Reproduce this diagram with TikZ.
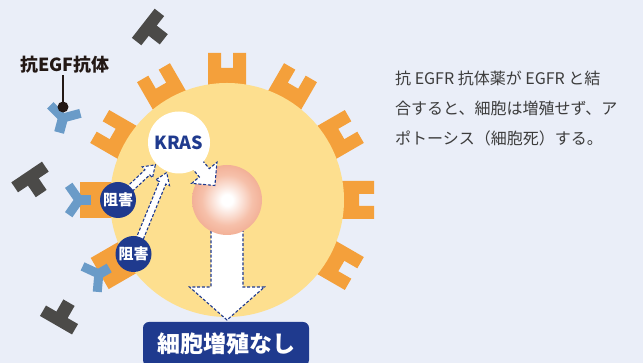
\documentclass[tikz,border=0pt]{standalone}
\usepackage{fontspec}
\setmainfont{Noto Sans CJK JP}
\usetikzlibrary{calc}

\definecolor{bg}{HTML}{EAEEF8}
\definecolor{cellfill}{HTML}{FDDF8F}
\definecolor{rec}{HTML}{F4A03B}
\definecolor{abblue}{HTML}{6A9BC8}
\definecolor{egf}{HTML}{4B4A48}
\definecolor{navy}{HTML}{1F3A8E}
\definecolor{ink}{HTML}{231815}
\definecolor{bodytext}{HTML}{3C3C3C}
\definecolor{nucA}{HTML}{F6C0AA}
\definecolor{nucB}{HTML}{EFA184}
\definecolor{nucC}{HTML}{EA9172}
\definecolor{nucD}{HTML}{EC9A7E}

\pgfdeclareradialshading{nucleus}{\pgfpoint{0bp}{0bp}}{%
  color(0bp)=(white); color(4bp)=(white); color(18bp)=(nucA);
  color(32bp)=(nucB); color(45bp)=(nucC); color(50bp)=(nucD)}

\tikzset{
  receptor/.style={fill=rec},
  antibody/.style={draw=abblue, line join=miter},
  ligand/.style={fill=egf},
  dasharrow/.style={fill=white, draw=navy, line width=1.1pt,
    dash pattern=on 3pt off 1.8pt, line join=miter},
  inhibit/.style={circle, fill=navy, text=white, inner sep=0pt,
    minimum size=36pt, font=\bfseries\fontsize{15}{15}\selectfont},
  bodyline/.style={anchor=west, text=bodytext, inner sep=0pt,
    font=\fontsize{16}{16}\selectfont},
}

% block arrow with a dashed outline: tail, tip, shaft half width,
% head half width, head length
\newcommand\fatarrow[5]{%
  \coordinate (fa-h) at ($(#2)!#5!(#1)$);
  \filldraw[dasharrow]
    ($(#1)!#3!90:(#2)$) -- ($(fa-h)!#3!-90:(#1)$) --
    ($(fa-h)!#4!-90:(#1)$) -- (#2) -- ($(fa-h)!#4!90:(#1)$) --
    ($(fa-h)!#3!90:(#1)$) -- ($(#1)!#3!-90:(#2)$) -- cycle;
}

% EGF ligand (T shape), stem along local +x
\newcommand\egfligand[2]{%
  \begin{scope}[shift={#1}, rotate=#2]
    \fill[ligand] (-6,-18.5) rectangle (6,18.5);
    \fill[ligand] (5,-6.5) rectangle (20,6.5);
  \end{scope}}

\begin{document}
\begin{tikzpicture}[x=1pt, y=1pt]
  \useasboundingbox (0,0) rectangle (643,363);
  \fill[bg] (0,0) rectangle (643,363);

  % free EGF ligands
  \egfligand{(148,336)}{-38}
  \egfligand{(30,186)}{-56}
  \egfligand{(59,43)}{60}

  % free anti-EGFR antibody with its label
  \begin{scope}[shift={(63,245)}, rotate=-105]
    \draw[antibody, line width=10pt] (0,0) -- (15,0);
    \draw[antibody, line width=9pt] (-9,15.6) -- (0,0) -- (-9,-15.6);
  \end{scope}
  \node[font=\bfseries\fontsize{18}{18}\selectfont, text=ink, inner sep=1pt]
    (lbl) at (65,298) {抗EGF抗体};
  \node[circle, fill=ink, minimum size=11pt, inner sep=0pt] (dot) at (63,256) {};
  \draw[ink, line width=2pt] (dot.center) -- (dot.center |- lbl.south);

  % EGFR receptors on the membrane
  \foreach \a in {-30,0,30,60,90,120,150} {
    \fill[receptor, shift={(227,163)}, rotate=\a]
      (105,-19) -- (147,-19) -- (147,-6) -- (132,-6) -- (132,6) --
      (147,6) -- (147,19) -- (105,19) -- cycle;
  }
  \foreach \a in {180,210} {
    \fill[receptor, shift={(227,163)}, rotate=\a] (105,-18) rectangle (147,18);
  }

  % cell
  \node[circle, fill=cellfill, minimum size=234pt, inner sep=0pt] (cell) at (227,163) {};

  % antibodies bound to receptors
  \foreach \a in {180,210} {
    \begin{scope}[shift={(227,163)}, rotate=\a]
      \draw[antibody, line width=10pt] (136,0) -- (148,0);
      \draw[antibody, line width=9pt] (158.3,14.7) -- (148,0) -- (158.3,-14.7);
    \end{scope}
  }

  % named positions
  \coordinate (nucc) at (227,163);
  \coordinate (bigtip) at (227,43);

  % no proliferation arrow
  \fatarrow{nucc}{bigtip}{16pt}{37.5pt}{33pt}

  % nucleus
  \node[circle, shading=nucleus, minimum size=70pt, inner sep=0pt] (nuc) at (nucc) {};

  % KRAS
  \coordinate (kp) at (179,220.5);
  \coordinate (ctip) at ($(kp)!56pt!(nucc)$);
  \fatarrow{kp}{ctip}{6.5pt}{16.5pt}{16.5pt}
  \node[circle, fill=white, minimum size=62pt, inner sep=0pt, text=navy,
    font=\bfseries\fontsize{18}{18}\selectfont] (kras) at (kp) {KRAS};

  % inhibition markers and signals towards KRAS
  \coordinate (i1) at (118,163);
  \coordinate (i2) at (133.5,109);
  \coordinate (atip) at ($(kras.center)!32.5pt!(i1)$);
  \coordinate (btip) at ($(kras.center)!32.5pt!(i2)$);
  \fatarrow{i1}{atip}{3.5pt}{7.5pt}{11pt}
  \fatarrow{i2}{btip}{3.5pt}{7.5pt}{11pt}
  \node[inhibit] (inh1) at (i1) {阻害};
  \node[inhibit] (inh2) at (i2) {阻害};

  % result box
  \node[fill=navy, rounded corners=6pt, minimum width=166pt, minimum height=44pt,
    inner sep=0pt, text=white, font=\bfseries\fontsize{23}{23}\selectfont]
    (result) at (226,19) {細胞増殖なし};

  % explanation
  \node[bodyline] (t1) at (395,285) {抗 EGFR 抗体薬が EGFR と結};
  \node[bodyline] (t2) at (395,255) {合すると、細胞は増殖せず、ア};
  \node[bodyline] (t3) at (395,225) {ポトーシス（細胞死）する。};
\end{tikzpicture}
\end{document}
